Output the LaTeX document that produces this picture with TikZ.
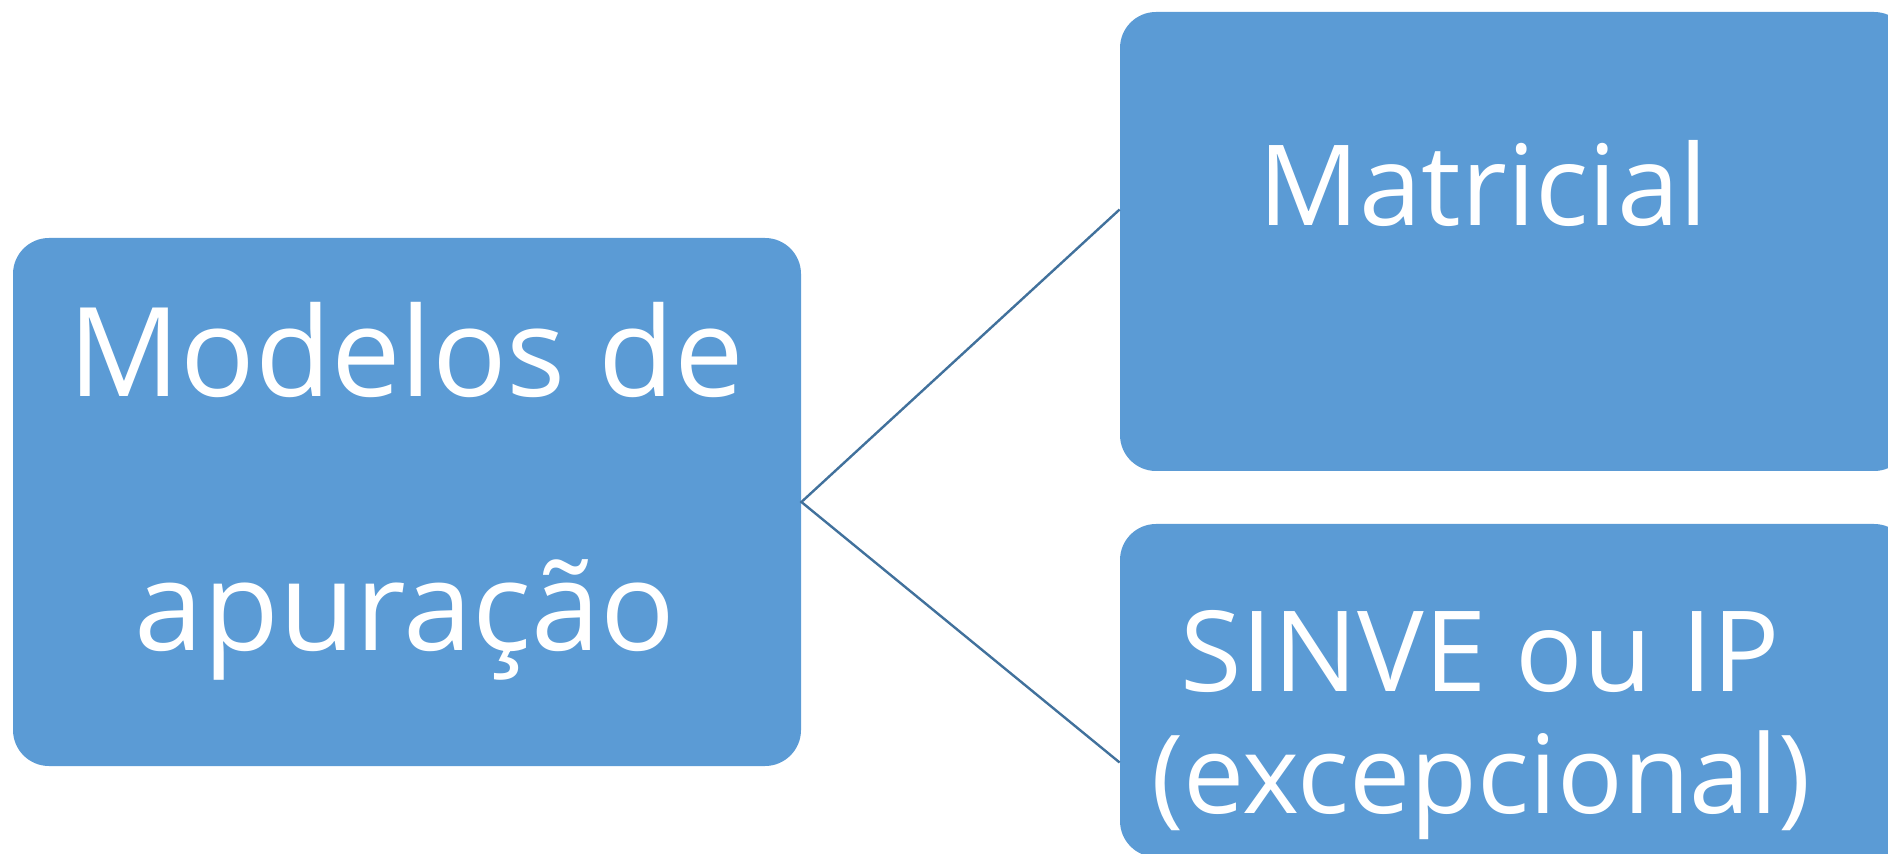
\documentclass[tikz,border=0pt]{standalone}
\usepackage{fontspec}
\setmainfont{Open Sans}
\definecolor{boxblue}{HTML}{5B9BD5}
\definecolor{linkblue}{HTML}{41719C}

\begin{document}
\begin{tikzpicture}[x=0.5pt,y=-0.5pt,
  box/.style={fill=boxblue, rounded corners=18pt, inner sep=0pt},
  boxtext/.style={text=white, inner sep=0pt, anchor=base, font=\fontsize{56}{67}\selectfont},
  bigtext/.style={boxtext, font=\fontsize{62}{74}\selectfont},
  link/.style={draw=linkblue, line width=1.2pt}]
\useasboundingbox (0,0) rectangle (1888,854);
\clip (0,0) rectangle (1888,854);

% boxes
\node[box, minimum width=394pt, minimum height=264pt] (modelos) at (407,502) {};
\node[box, minimum width=395pt, minimum height=229.5pt] (matricial) at (1515,241.5) {};
\node[box, minimum width=395pt, minimum height=166.5pt] (sinve) at (1515,690.5) {};

% texts
\node[bigtext] (modelos1) at (406,397) {Modelos de};
\node[bigtext] (modelos2) at (405,650) {apuração};
\node[boxtext] (matricial1) at (1483,226) {Matricial};
\node[boxtext] (sinve1) at (1480,691) {SINVE ou IP};
\node[boxtext, font=\fontsize{54.5}{65}\selectfont] (sinve2) at (1481,813) {(excepcional)};

\draw[link] ([yshift=16pt]matricial.west) -- (modelos.east) -- ([yshift=-36pt]sinve.west);

\end{tikzpicture}
\end{document}
